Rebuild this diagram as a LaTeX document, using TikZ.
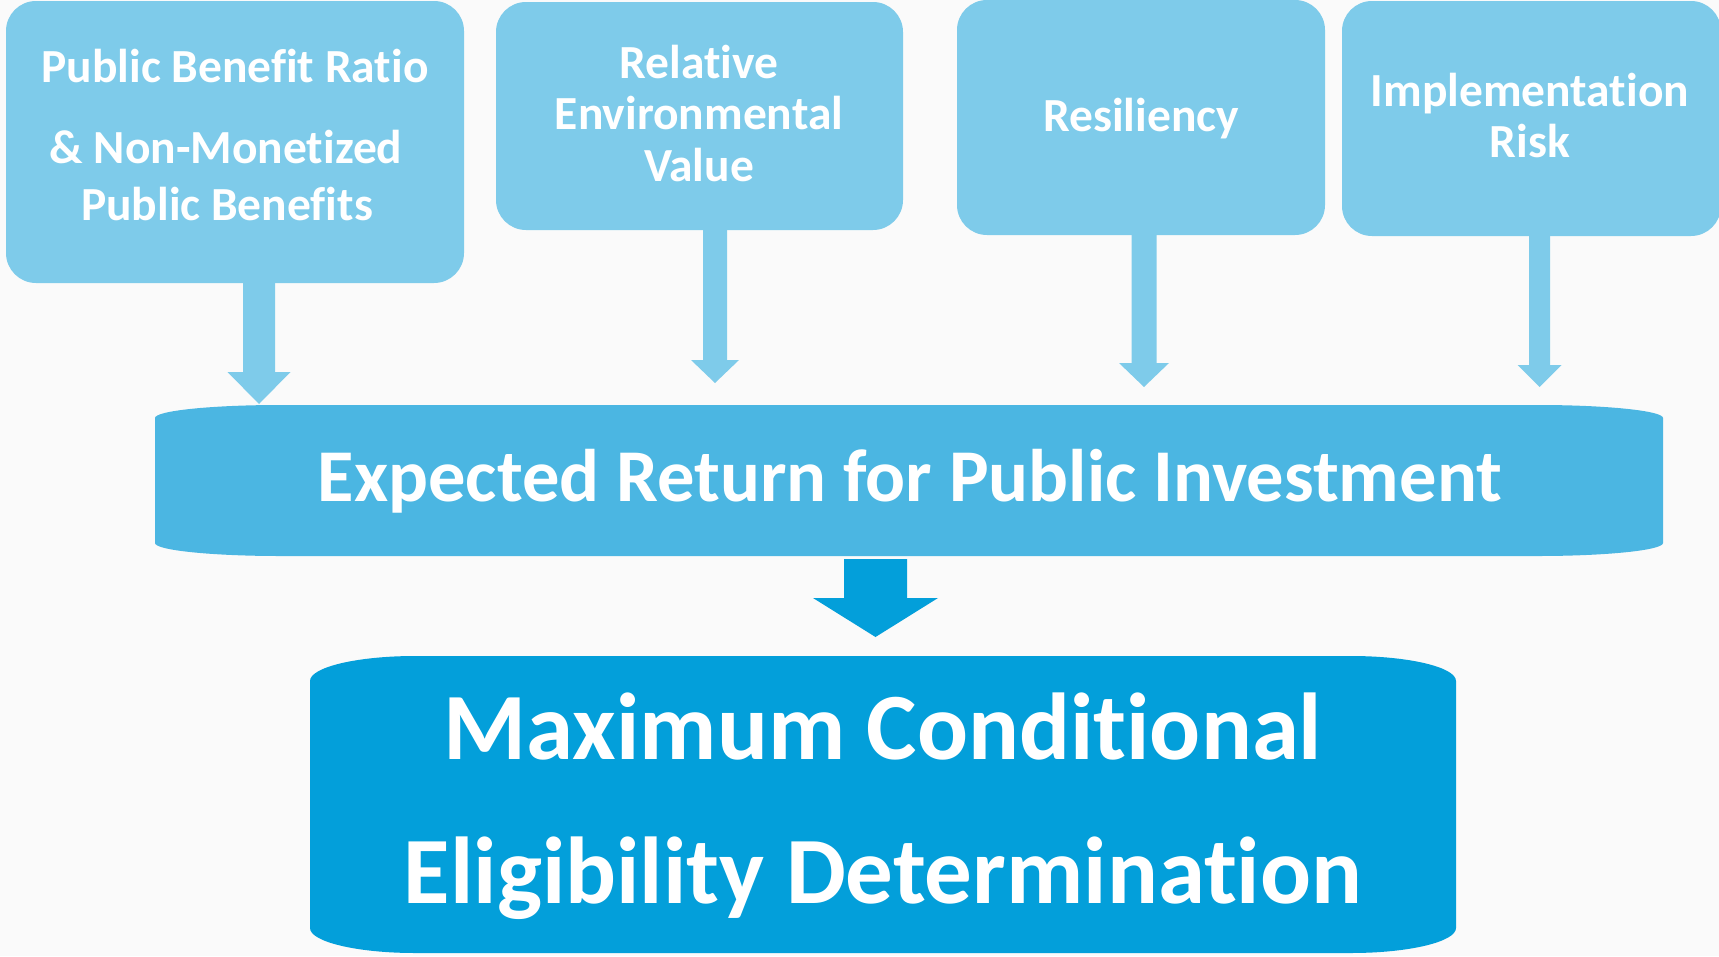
\documentclass[tikz,border=0pt]{standalone}
\usepackage{fontspec}
\setmainfont[Ligatures=NoCommon]{Carlito}
\usetikzlibrary{calc}
\definecolor{topblue}{RGB}{126,203,234}
\definecolor{midblue}{RGB}{75,182,226}
\definecolor{botblue}{RGB}{3,159,218}
\definecolor{bgcol}{RGB}{250,250,250}
% block arrow: style, start, tip, half shaft, half head, head length
\newcommand\blkarrow[6]{\fill[#1] ($(#2)+(-#4,0)$) -- ($(#2)+(#4,0)$) -- ($(#3)+(#4,-#6)$) -- ($(#3)+(#5,-#6)$) -- (#3) -- ($(#3)+(-#5,-#6)$) -- ($(#3)+(-#4,-#6)$) -- cycle;}
% barrel shape: style, L, T, R, B, rx, ry
\newcommand\barrel[7]{\fill[#1] (#2,{#3+#7}) .. controls (#2,{#3+0.448*#7}) and ({#2+0.448*#6},#3) .. ({#2+#6},#3)
 -- ({#4-#6},#3) .. controls ({#4-0.448*#6},#3) and (#4,{#3+0.448*#7}) .. (#4,{#3+#7})
 -- (#4,{#5-#7}) .. controls (#4,{#5-0.448*#7}) and ({#4-0.448*#6},#5) .. ({#4-#6},#5)
 -- ({#2+#6},#5) .. controls ({#2+0.448*#6},#5) and (#2,{#5-0.448*#7}) .. (#2,{#5-#7}) -- cycle;}
\tikzset{
  topbox/.style={fill=topblue, rounded corners=30pt, inner sep=0pt, outer sep=0pt},
  hold/.style={inner sep=0pt, outer sep=0pt},
  lbl/.style={text=white, anchor=base, inner sep=0pt, font=\bfseries\fontsize{47.5}{47.5}\selectfont},
  midlbl/.style={lbl, font=\bfseries\fontsize{74.5}{74.5}\selectfont},
  botlbl/.style={lbl, font=\bfseries\fontsize{95}{95}\selectfont},
  thin/.style={fill=topblue},
  thick/.style={fill=botblue}
}
\begin{document}
\begin{tikzpicture}[x=1pt,y=-1pt]
\useasboundingbox (0,0) rectangle (1719,956);
\fill[bgcol] (0,0) rectangle (1719,956);
% top boxes
\node[topbox, minimum width=458pt, minimum height=282pt] (b1) at (235,142) {};
\node[topbox, minimum width=407pt, minimum height=228pt] (b2) at (699.5,116) {};
\node[topbox, minimum width=368pt, minimum height=235pt] (b3) at (1141,117.5) {};
\node[topbox, minimum width=379pt, minimum height=235pt] (b4) at (1531.5,118.5) {};
% middle and bottom boxes
\barrel{midblue}{155}{405}{1663}{556}{125}{13}
\node[hold, minimum width=1508pt, minimum height=151pt] (mid) at (909,480.5) {};
\barrel{botblue}{310}{656}{1456}{953}{105}{25}
\node[hold, minimum width=1146pt, minimum height=297pt] (bot) at (883,804.5) {};
% texts
\node[lbl] (t1a) at (235,82) {Public Benefit Ratio};
\node[lbl] (t1b) at (226,163) {\& Non-Monetized};
\node[lbl] (t1c) at (227,220) {Public Benefits};
\node[lbl] (t2a) at (699,78) {Relative};
\node[lbl] (t2b) at (699,129) {Environmental};
\node[lbl] (t2c) at (699,181) {Value};
\node[lbl] (t3a) at (1141,131) {Resiliency};
\node[lbl] (t4a) at (1530,106) {Implementation};
\node[lbl] (t4b) at (1530,157) {Risk};
\node[midlbl] (tm) at (910,501) {Expected Return for Public Investment};
\node[botlbl] (tba) at (883,759) {Maximum Conditional};
\node[botlbl] (tbb) at (883,903) {Eligibility Determination};
% connectors
\coordinate (a1s) at ($(b1.south)+(24,0)$);
\coordinate (a1e) at ($(mid.north)+(-650,-1)$);
\coordinate (a2s) at ($(b2.south)+(15.5,0)$);
\coordinate (a2e) at ($(mid.north)+(-194,-22)$);
\coordinate (a3s) at ($(b3.south)+(3,0)$);
\coordinate (a3e) at ($(mid.north)+(235,-18)$);
\coordinate (a4s) at ($(b4.south)+(8,0)$);
\coordinate (a4e) at ($(mid.north)+(630.5,-18)$);
\coordinate (a5s) at ($(mid.south)+(-33.5,3)$);
\coordinate (a5e) at ($(bot.north)+(-7.5,-19)$);
\blkarrow{thin}{a1s}{a1e}{16}{31.5}{32}
\blkarrow{thin}{a2s}{a2e}{12}{24}{23}
\blkarrow{thin}{a3s}{a3e}{12.5}{25}{24}
\blkarrow{thin}{a4s}{a4e}{10.5}{22}{22}
\blkarrow{thick}{a5s}{a5e}{31.5}{62.5}{39}
\end{tikzpicture}
\end{document}
